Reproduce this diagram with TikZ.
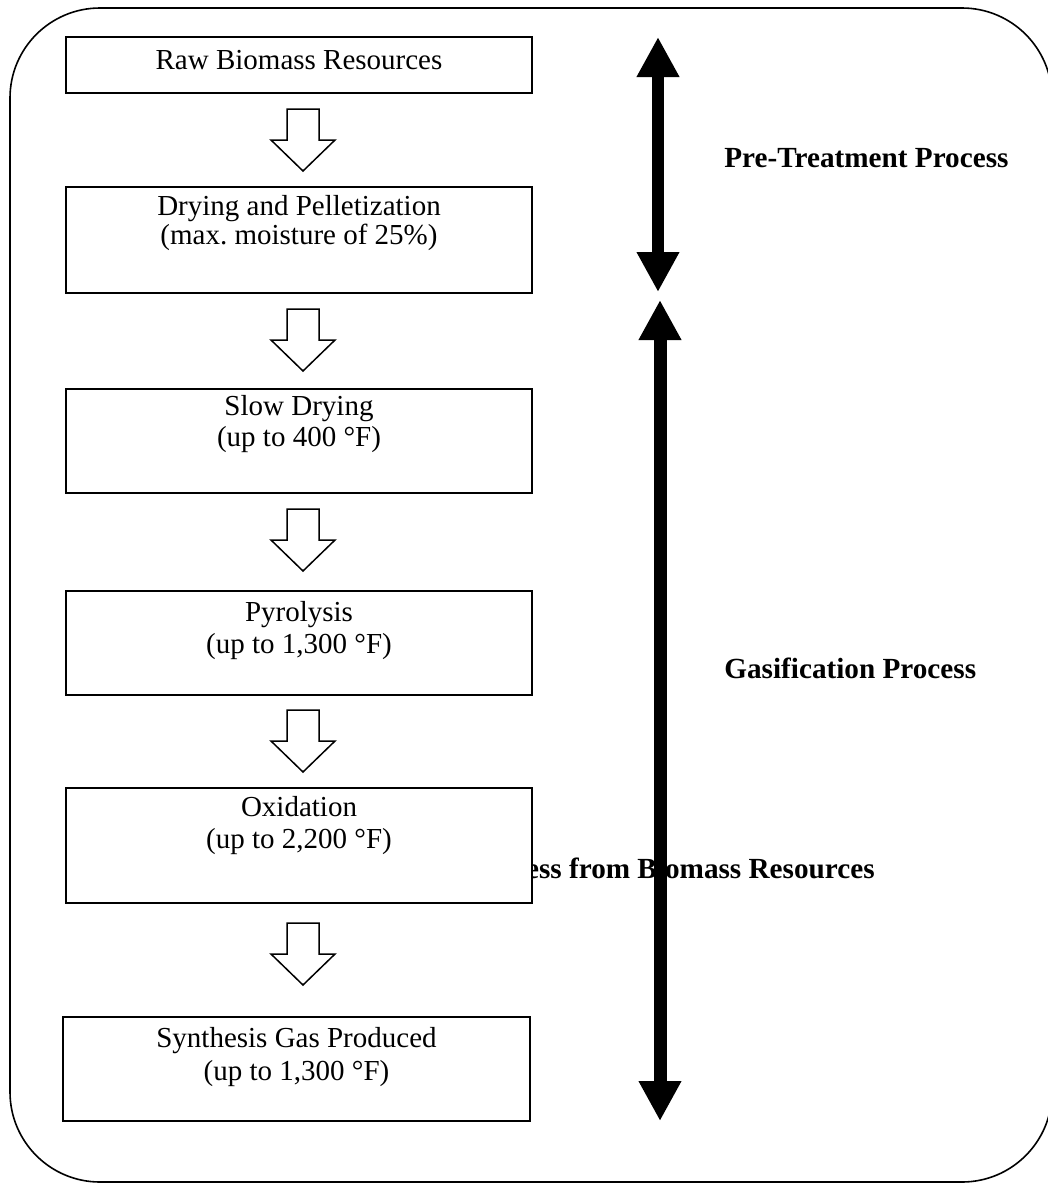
\documentclass[tikz,border=0pt]{standalone}
\usepackage{fontspec}
\setmainfont{Liberation Serif}
\usetikzlibrary{arrows.meta,calc}
\begin{document}
\begin{tikzpicture}[x=0.5pt,y=-0.5pt,
  frame/.style={draw=black, line width=0.8pt, rounded corners=45pt},
  stepbox/.style={draw=black, line width=1pt, fill=white, rectangle, inner sep=0pt,
    minimum width=233pt, minimum height=52pt},
  boxtext/.style={anchor=base, inner sep=0pt, font=\fontsize{14.5}{17}\selectfont},
  heading/.style={inner sep=0pt, font=\fontsize{14.6}{17}\selectfont\bfseries},
  bigarrow/.style={{Triangle[length=20pt,width=20pt]}-{Triangle[length=20pt,width=20pt]}},
  pics/flowdown/.style={code={
    \draw[line width=0.75pt, fill=white]
      (-16,-31) -- (16,-31) -- (16,0) -- (32,0) -- (0,31) -- (-32,0) -- (-16,0) -- cycle;}}
]
\clip (0,0) rectangle (1048,1184);

% outer rounded frame
\draw[frame] (10,8) rectangle (1052,1182);

% caption line, partly hidden behind the step boxes
\node[heading, anchor=base east] (caption) at (875,878)
  {Gasification Process from Biomass Resources};

% process steps
\node[stepbox, minimum height=28pt] (b1) at (299,65) {};
\node[stepbox, minimum height=53pt] (b2) at (299,240) {};
\node[stepbox] (b3) at (299,441) {};
\node[stepbox] (b4) at (299,643) {};
\node[stepbox, minimum height=57.5pt] (b5) at (299,845.5) {};
\node[stepbox, minimum width=233.5pt] (b6) at (296.5,1069) {};

\node[boxtext] (t1) at (299,69) {Raw Biomass Resources};
\node[boxtext] (t2a) at (299,215) {Drying and Pelletization};
\node[boxtext] (t2b) at (299,244) {(max.\ moisture of 25\%)};
\node[boxtext] (t3a) at (299,415) {Slow Drying};
\node[boxtext] (t3b) at (299,446) {(up to 400 °F)};
\node[boxtext] (t4a) at (299,621) {Pyrolysis};
\node[boxtext] (t4b) at (299,653) {(up to 1,300 °F)};
\node[boxtext] (t5a) at (299,816) {Oxidation};
\node[boxtext] (t5b) at (299,848) {(up to 2,200 °F)};
\node[boxtext] (t6a) at (296.5,1047) {Synthesis Gas Produced};
\node[boxtext] (t6b) at (296.5,1080) {(up to 1,300 °F)};

% hollow flow arrows between the steps
\pic at ($(b1.south)+(4,46)$) {flowdown};
\pic at ($(b2.south)+(4,46)$) {flowdown};
\pic at ($(b3.south)+(4,46)$) {flowdown};
\pic at ($(b4.south)+(4,45)$) {flowdown};
\pic at ($(b5.south)+(4,50)$) {flowdown};

% stage extent arrows
\coordinate (preTop) at (658,37);
\coordinate (preBot) at (658,292);
\coordinate (gasTop) at (660,300);
\coordinate (gasBot) at (660,1121);
\draw[bigarrow, line width=6pt] (preTop) -- (preBot);
\draw[bigarrow, line width=6.5pt] (gasTop) -- (gasBot);

% stage labels
\node[heading, anchor=base west] (preLbl) at (724,167) {Pre-Treatment Process};
\node[heading, anchor=base west] (gasLbl) at (724,678) {Gasification Process};
\end{tikzpicture}
\end{document}
